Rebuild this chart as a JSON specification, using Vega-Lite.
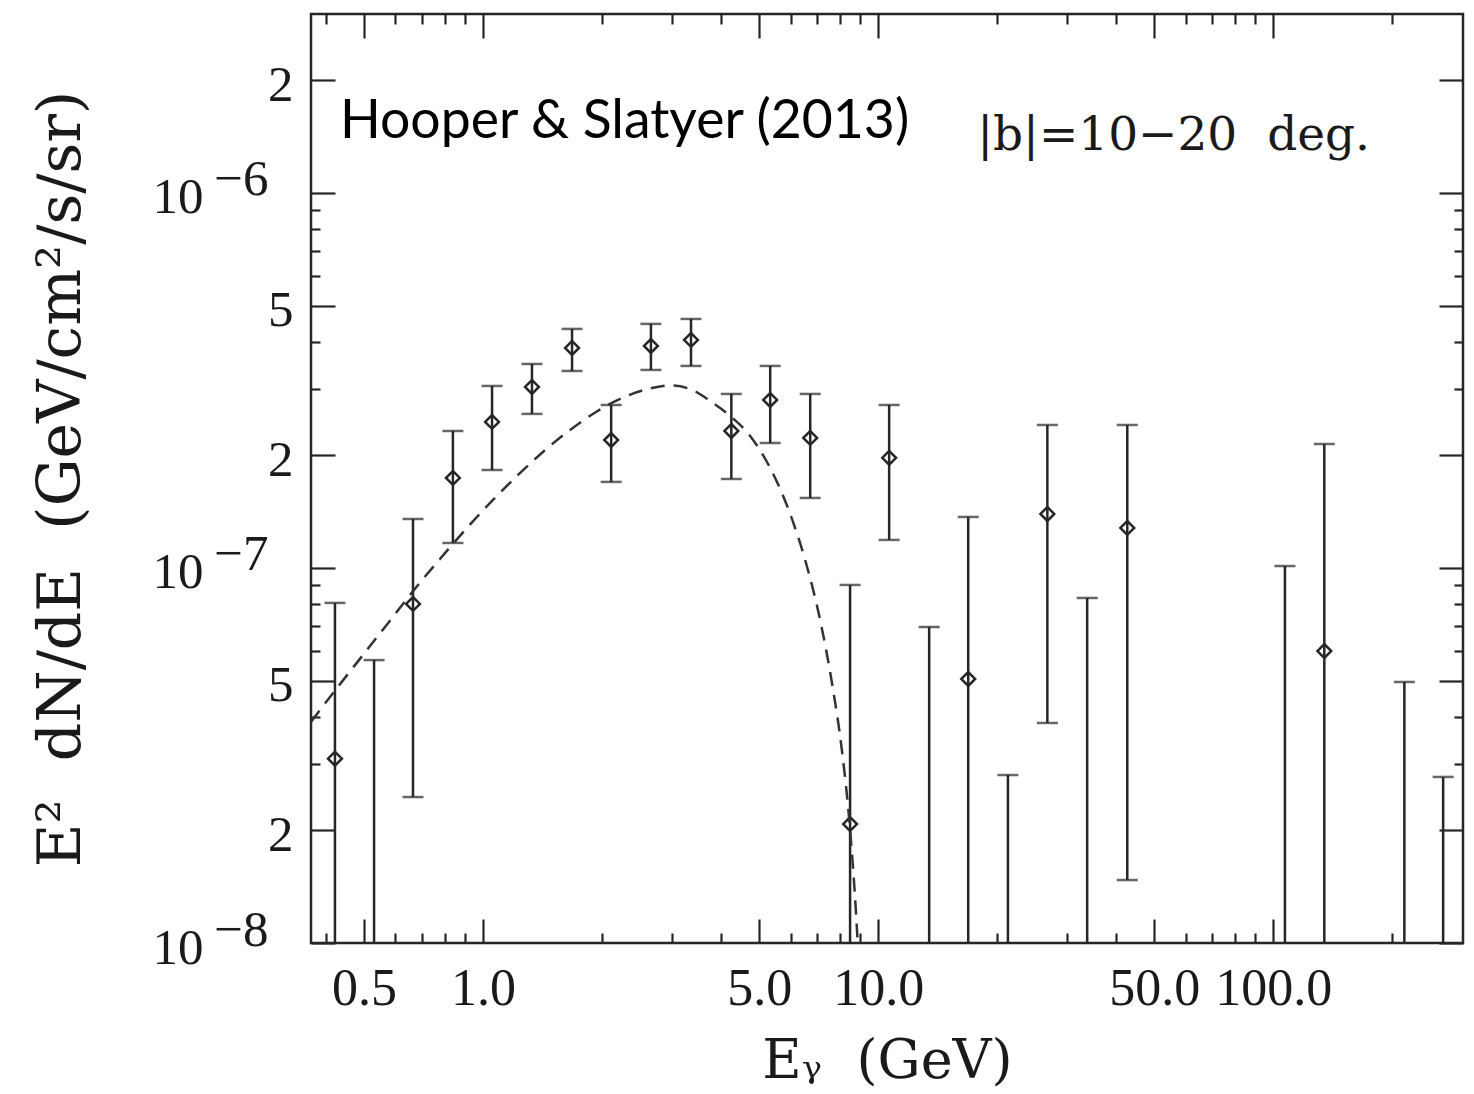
{
  "$schema": "https://vega.github.io/schema/vega-lite/v6.json",
  "width": 1152,
  "height": 929,
  "autosize": {"type": "none"},
  "padding": {"left": 311, "top": 14, "right": 11, "bottom": 151},
  "background": "white",
  "config": {
    "view": {"stroke": "#262626", "strokeWidth": 2.5},
    "axis": {
      "domain": false,
      "grid": false,
      "labelOverlap": false,
      "labelFlush": false,
      "tickColor": "#262626",
      "tickWidth": 2.2,
      "labelColor": "#1a1a1a",
      "labelFont": "Liberation Serif",
      "titleFont": "DejaVu Serif",
      "titleFontWeight": "normal",
      "titleColor": "#1a1a1a"
    }
  },
  "datasets": {
    "pts": [
      {"E": 0.422, "v": 3.10e-8, "lo": 1e-9, "hi": 8.07e-8},
      {"E": 0.530, "v": null, "lo": 1e-9, "hi": 5.68e-8},
      {"E": 0.665, "v": 8.02e-8, "lo": 2.45e-8, "hi": 1.351e-7},
      {"E": 0.839, "v": 1.738e-7, "lo": 1.166e-7, "hi": 2.319e-7},
      {"E": 1.054, "v": 2.451e-7, "lo": 1.825e-7, "hi": 3.057e-7},
      {"E": 1.33, "v": 3.038e-7, "lo": 2.575e-7, "hi": 3.499e-7},
      {"E": 1.68, "v": 3.86e-7, "lo": 3.352e-7, "hi": 4.339e-7},
      {"E": 2.11, "v": 2.194e-7, "lo": 1.696e-7, "hi": 2.72e-7},
      {"E": 2.66, "v": 3.908e-7, "lo": 3.373e-7, "hi": 4.475e-7},
      {"E": 3.36, "v": 4.055e-7, "lo": 3.457e-7, "hi": 4.613e-7},
      {"E": 4.25, "v": 2.319e-7, "lo": 1.727e-7, "hi": 2.911e-7},
      {"E": 5.33, "v": 2.805e-7, "lo": 2.154e-7, "hi": 3.457e-7},
      {"E": 6.73, "v": 2.222e-7, "lo": 1.537e-7, "hi": 2.911e-7},
      {"E": 8.49, "v": 2.076e-8, "lo": 1e-9, "hi": 9.01e-8},
      {"E": 10.66, "v": 1.966e-7, "lo": 1.188e-7, "hi": 2.72e-7},
      {"E": 13.46, "v": null, "lo": 1e-9, "hi": 6.96e-8},
      {"E": 16.9, "v": 5.058e-8, "lo": 1e-9, "hi": 1.368e-7},
      {"E": 21.3, "v": null, "lo": 1e-9, "hi": 2.805e-8},
      {"E": 26.8, "v": 1.393e-7, "lo": 3.861e-8, "hi": 2.406e-7},
      {"E": 33.8, "v": null, "lo": 1e-9, "hi": 8.318e-8},
      {"E": 42.7, "v": 1.279e-7, "lo": 1.472e-8, "hi": 2.406e-7},
      {"E": 107, "v": null, "lo": 1e-9, "hi": 1.012e-7},
      {"E": 134.6, "v": 6.005e-8, "lo": 1e-9, "hi": 2.141e-7},
      {"E": 214.6, "v": null, "lo": 1e-9, "hi": 4.966e-8},
      {"E": 269, "v": null, "lo": 1e-9, "hi": 2.772e-8}
    ],
    "curve": [
      {"E": 0.3669, "v": 3.886e-8},
      {"E": 0.4270, "v": 4.786e-8},
      {"E": 0.4968, "v": 5.861e-8},
      {"E": 0.5781, "v": 7.178e-8},
      {"E": 0.6688, "v": 8.737e-8},
      {"E": 0.7781, "v": 1.0568e-7},
      {"E": 0.9057, "v": 1.2706e-7},
      {"E": 1.0539, "v": 1.5092e-7},
      {"E": 1.2263, "v": 1.7701e-7},
      {"E": 1.4272, "v": 2.0512e-7},
      {"E": 1.6608, "v": 2.3335e-7},
      {"E": 1.9321, "v": 2.6062e-7},
      {"E": 2.2481, "v": 2.8392e-7},
      {"E": 2.6164, "v": 3.0007e-7},
      {"E": 2.9748, "v": 3.0659e-7},
      {"E": 3.3427, "v": 3.0007e-7},
      {"E": 3.7560, "v": 2.7874e-7},
      {"E": 4.2204, "v": 2.5429e-7},
      {"E": 4.7424, "v": 2.2491e-7},
      {"E": 5.3288, "v": 1.8478e-7},
      {"E": 5.9878, "v": 1.3932e-7},
      {"E": 6.5341, "v": 1.0503e-7},
      {"E": 7.1302, "v": 7.267e-8},
      {"E": 7.6463, "v": 4.905e-8},
      {"E": 8.1054, "v": 3.231e-8},
      {"E": 8.4924, "v": 2.0007e-8},
      {"E": 8.7943, "v": 1.1876e-8},
      {"E": 9.0019, "v": 7.491e-9}
    ]
  },
  "resolve": {"axis": {"x": "independent", "y": "independent"}},
  "layer": [
    {
      "data": {"name": "pts"},
      "mark": {"type": "rule", "color": "#262626", "strokeWidth": 2.5, "clip": true},
      "encoding": {
        "x": {
          "field": "E", "type": "quantitative",
          "scale": {"type": "log", "domain": [0.367, 302], "nice": false, "zero": false},
          "axis": {
            "orient": "bottom",
            "values": [0.4, 0.5, 0.6, 0.7, 0.8, 0.9, 1, 2, 3, 4, 5, 6, 7, 8, 9, 10, 20, 30, 40, 50, 60, 70, 80, 90, 100, 200],
            "tickSize": {"condition": {"test": "indexof([0.5,1,5,10,50,100], datum.value) >= 0", "value": -24}, "value": -10},
            "labelExpr": "indexof([0.5,1,5,10,50,100], datum.value) >= 0 ? format(datum.value, '.1f') : ''",
            "labelPadding": 44,
            "labelFontSize": 52,
            "title": "Eᵧ\u00a0\u00a0(GeV)",
            "titleFontSize": 54,
            "titlePadding": 6
          }
        },
        "y": {
          "field": "lo", "type": "quantitative",
          "scale": {"type": "log", "domain": [1e-8, 3e-6], "nice": false, "zero": false},
          "axis": {
            "orient": "left",
            "values": [1e-8, 2e-8, 3e-8, 4e-8, 5e-8, 6e-8, 7e-8, 8e-8, 9e-8, 1e-7, 2e-7, 3e-7, 4e-7, 5e-7, 6e-7, 7e-7, 8e-7, 9e-7, 1e-6, 2e-6],
            "tickSize": {"condition": {"test": "indexof([1e-8,2e-8,5e-8,1e-7,2e-7,5e-7,1e-6,2e-6], datum.value) >= 0", "value": -24}, "value": -9},
            "labelExpr": "indexof([1e-8,1e-7,1e-6], datum.value) >= 0 ? '10' : indexof([2e-8,2e-7,2e-6], datum.value) >= 0 ? '2' : indexof([5e-8,5e-7], datum.value) >= 0 ? '5' : ''",
            "labelPadding": {"condition": {"test": "indexof([1e-8,1e-7,1e-6], datum.value) >= 0", "value": 132}, "value": 42},
            "labelOffset": 5,
            "labelAlign": "right",
            "labelBaseline": "middle",
            "labelFontSize": 51,
            "title": "E²\u00a0\u00a0dN/dE\u00a0\u00a0(GeV/cm²/s/sr)",
            "titleFontSize": 60,
            "titlePadding": 60
          }
        },
        "y2": {"field": "hi"}
      }
    },
    {
      "data": {"name": "pts"},
      "mark": {"type": "tick", "orient": "horizontal", "size": 21, "thickness": 2.5, "color": "#262626"},
      "encoding": {
        "x": {
          "field": "E", "type": "quantitative",
          "scale": {"type": "log", "domain": [0.367, 302], "nice": false, "zero": false},
          "axis": {
            "orient": "top",
            "values": [0.4, 0.5, 0.6, 0.7, 0.8, 0.9, 1, 2, 3, 4, 5, 6, 7, 8, 9, 10, 20, 30, 40, 50, 60, 70, 80, 90, 100, 200],
            "tickSize": {"condition": {"test": "indexof([0.5,1,5,10,50,100], datum.value) >= 0", "value": -24}, "value": -10},
            "labels": false,
            "title": null
          }
        },
        "y": {
          "field": "hi", "type": "quantitative",
          "scale": {"type": "log", "domain": [1e-8, 3e-6], "nice": false, "zero": false},
          "axis": {
            "orient": "right",
            "values": [1e-8, 2e-8, 3e-8, 4e-8, 5e-8, 6e-8, 7e-8, 8e-8, 9e-8, 1e-7, 2e-7, 3e-7, 4e-7, 5e-7, 6e-7, 7e-7, 8e-7, 9e-7, 1e-6, 2e-6],
            "tickSize": {"condition": {"test": "indexof([1e-8,2e-8,5e-8,1e-7,2e-7,5e-7,1e-6,2e-6], datum.value) >= 0", "value": -24}, "value": -9},
            "labels": false,
            "title": null
          }
        }
      }
    },
    {
      "data": {"name": "pts"},
      "transform": [{"filter": "datum.lo >= 1e-8"}],
      "mark": {"type": "tick", "orient": "horizontal", "size": 21, "thickness": 2.5, "color": "#262626"},
      "encoding": {
        "x": {
          "field": "E", "type": "quantitative",
          "scale": {"type": "log", "domain": [0.367, 302], "nice": false, "zero": false},
          "axis": null
        },
        "y": {
          "field": "lo", "type": "quantitative",
          "scale": {"type": "log", "domain": [1e-8, 3e-6], "nice": false, "zero": false},
          "axis": {
            "orient": "left",
            "values": [1e-8, 1e-7, 1e-6],
            "ticks": false,
            "tickSize": 0,
            "labelExpr": "datum.value < 5e-8 ? '−8' : datum.value < 5e-7 ? '−7' : '−6'",
            "labelPadding": 43,
            "labelOffset": -13,
            "labelAlign": "right",
            "labelBaseline": "middle",
            "labelFontSize": 51,
            "title": null
          }
        }
      }
    },
    {
      "data": {"name": "pts"},
      "transform": [{"filter": "isValid(datum.v)"}],
      "mark": {"type": "point", "shape": "diamond", "filled": false, "size": 190, "stroke": "#262626", "strokeWidth": 2.5, "opacity": 1},
      "encoding": {
        "x": {"field": "E", "type": "quantitative", "scale": {"type": "log", "domain": [0.367, 302], "nice": false, "zero": false}, "axis": null},
        "y": {"field": "v", "type": "quantitative", "scale": {"type": "log", "domain": [1e-8, 3e-6], "nice": false, "zero": false}, "axis": null}
      }
    },
    {
      "data": {"name": "curve"},
      "mark": {"type": "line", "color": "#333333", "strokeWidth": 2.5, "strokeDash": [14, 9], "clip": true, "interpolate": "monotone"},
      "encoding": {
        "x": {"field": "E", "type": "quantitative", "scale": {"type": "log", "domain": [0.367, 302], "nice": false, "zero": false}, "axis": null},
        "y": {"field": "v", "type": "quantitative", "scale": {"type": "log", "domain": [1e-8, 3e-6], "nice": false, "zero": false}, "axis": null}
      }
    },
    {
      "data": {"values": [{}]},
      "mark": {"type": "text", "font": "Lato", "fontSize": 53.5, "align": "left", "baseline": "alphabetic", "color": "#000000"},
      "encoding": {
        "x": {"datum": 0.4345, "type": "quantitative", "scale": {"type": "log", "domain": [0.367, 302], "nice": false, "zero": false}, "axis": null},
        "y": {"datum": 1.40e-6, "type": "quantitative", "scale": {"type": "log", "domain": [1e-8, 3e-6], "nice": false, "zero": false}, "axis": null},
        "text": {"value": "Hooper & Slatyer (2013)"}
      }
    },
    {
      "data": {"values": [{}]},
      "mark": {"type": "text", "font": "DejaVu Serif", "fontSize": 47, "align": "left", "baseline": "alphabetic", "color": "#1a1a1a"},
      "encoding": {
        "x": {"datum": 17.8, "type": "quantitative", "scale": {"type": "log", "domain": [0.367, 302], "nice": false, "zero": false}, "axis": null},
        "y": {"datum": 1.30e-6, "type": "quantitative", "scale": {"type": "log", "domain": [1e-8, 3e-6], "nice": false, "zero": false}, "axis": null},
        "text": {"value": "|b|=10−20\u00a0\u00a0deg."}
      }
    }
  ]
}
